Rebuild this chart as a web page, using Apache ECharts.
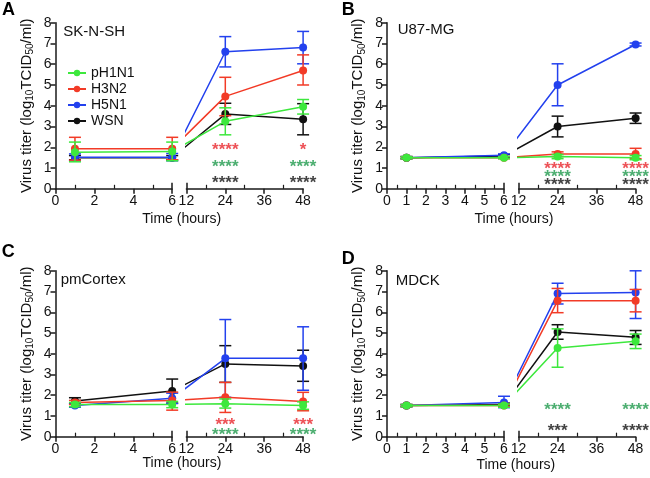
<!DOCTYPE html>
<html>
<head>
<meta charset="utf-8">
<script src="https://cdn.jsdelivr.net/npm/echarts@6/dist/echarts.min.js"></script>
<style>html,body{margin:0;padding:0;background:#fff}#c{width:650px;height:478px}</style>
</head>
<body>
<div id="c"></div>
<script>
// ---------------- DATA ----------------
const times = [1, 6, 24, 48];
const viruses = ['pH1N1', 'H3N2', 'H5N1', 'WSN'];
const panelLetters = ['A', 'B', 'C', 'D'];
const cellLines = ['SK-N-SH', 'U87-MG', 'pmCortex', 'MDCK'];
const yTickMin = 0, yTickMax = 8, yTickStep = 1;
const leftTickStep = [2, 1, 2, 1];
const rightTicks = [12, 24, 36, 48];
const xTitle = 'Time (hours)';

// Panel A: SK-N-SH
const A_pH1N1 = [1.76, 1.80, 3.25, 3.95], A_pH1N1_lo = [1.30, 1.35, 2.60, 3.60], A_pH1N1_hi = [2.25, 2.25, 3.90, 4.30];
const A_H3N2  = [1.93, 1.93, 4.45, 5.70], A_H3N2_lo  = [1.38, 1.40, 3.52, 5.00], A_H3N2_hi  = [2.48, 2.48, 5.37, 6.45];
const A_H5N1  = [1.52, 1.52, 6.60, 6.80], A_H5N1_lo  = [1.35, 1.35, 5.87, 6.02], A_H5N1_hi  = [1.68, 1.70, 7.33, 7.58];
const A_WSN   = [1.50, 1.50, 3.60, 3.35], A_WSN_lo   = [1.40, 1.40, 3.10, 2.60], A_WSN_hi   = [1.60, 1.60, 4.12, 4.10];
// Panel B: U87-MG
const B_pH1N1 = [1.50, 1.50, 1.55, 1.50], B_pH1N1_lo = [1.45, 1.45, 1.45, 1.40], B_pH1N1_hi = [1.55, 1.55, 1.65, 1.60];
const B_H3N2  = [1.50, 1.50, 1.68, 1.68], B_H3N2_lo  = [1.45, 1.45, 1.55, 1.45], B_H3N2_hi  = [1.55, 1.55, 1.78, 1.95];
const B_H5N1  = [1.50, 1.62, 5.00, 6.95], B_H5N1_lo  = [1.45, 1.55, 4.00, 6.88], B_H5N1_hi  = [1.55, 1.68, 6.02, 7.02];
const B_WSN   = [1.50, 1.58, 3.00, 3.40], B_WSN_lo   = [1.45, 1.50, 2.50, 3.15], B_WSN_hi   = [1.55, 1.65, 3.50, 3.65];
// Panel C: pmCortex
const C_pH1N1 = [1.55, 1.55, 1.59, 1.51], C_pH1N1_lo = [1.45, 1.40, 1.38, 1.32], C_pH1N1_hi = [1.65, 1.70, 1.82, 1.68];
const C_H3N2  = [1.65, 1.75, 1.90, 1.70], C_H3N2_lo  = [1.55, 1.28, 1.17, 1.25], C_H3N2_hi  = [1.75, 2.15, 2.62, 2.14];
const C_H5N1  = [1.50, 1.85, 3.78, 3.78], C_H5N1_lo  = [1.42, 1.60, 1.90, 2.24], C_H5N1_hi  = [1.58, 2.10, 5.65, 5.30];
const C_WSN   = [1.72, 2.20, 3.51, 3.41], C_WSN_lo   = [1.60, 1.62, 2.62, 2.67], C_WSN_hi   = [1.88, 2.78, 4.39, 4.17];
// Panel D: MDCK
const D_pH1N1 = [1.50, 1.50, 4.28, 4.60], D_pH1N1_lo = [1.45, 1.42, 3.35, 4.25], D_pH1N1_hi = [1.55, 1.58, 5.20, 4.95];
const D_H3N2  = [1.50, 1.50, 6.55, 6.55], D_H3N2_lo  = [1.45, 1.45, 5.98, 6.02], D_H3N2_hi  = [1.55, 1.55, 7.15, 7.10];
const D_H5N1  = [1.50, 1.65, 6.90, 6.95], D_H5N1_lo  = [1.45, 1.40, 6.40, 5.70], D_H5N1_hi  = [1.55, 1.95, 7.40, 8.00];
const D_WSN   = [1.50, 1.55, 5.05, 4.80], D_WSN_lo   = [1.45, 1.48, 4.70, 4.45], D_WSN_hi   = [1.55, 1.62, 5.40, 5.12];

// Significance annotations: [time, level, text, comparison group]
const A_stars = [[24, 2.05, '****', 'H3N2'], [24, 1.25, '****', 'pH1N1'], [24, 0.45, '****', 'WSN'],
                 [48, 2.05, '*', 'H3N2'], [48, 1.25, '****', 'pH1N1'], [48, 0.45, '****', 'WSN']];
const B_stars = [[24, 1.13, '****', 'H3N2'], [24, 0.77, '****', 'pH1N1'], [24, 0.35, '****', 'WSN'],
                 [48, 1.13, '****', 'H3N2'], [48, 0.77, '****', 'pH1N1'], [48, 0.35, '****', 'WSN']];
const C_stars = [[24, 0.76, '***', 'H3N2'], [24, 0.27, '****', 'pH1N1'],
                 [48, 0.76, '***', 'H3N2'], [48, 0.27, '****', 'pH1N1']];
const D_stars = [[24, 1.45, '****', 'pH1N1'], [24, 0.45, '***', 'WSN'],
                 [48, 1.45, '****', 'pH1N1'], [48, 0.45, '****', 'WSN']];

// ---------------- STYLE / LAYOUT ----------------
const FONT = '"Liberation Sans", Arial, sans-serif';
const lineColor = { pH1N1: '#3de83d', H3N2: '#f23b27', H5N1: '#2341ee', WSN: '#111111' };
const starColor = { pH1N1: '#1f9a4c', H3N2: '#e8262c', H5N1: '#2341ee', WSN: '#111111' };
const drawOrder = ['WSN', 'H5N1', 'H3N2', 'pH1N1'];
const COLS = [{ x0: 55.5, w: 116.7, gap: 14.2 }, { x0: 387, w: 117, gap: 14.6 }];
const ROWS = [{ top: 22.7, h: 166.1 }, { top: 270.8, h: 165.9 }];
const AX = '#1a1a1a';

const panelData = {
  A: { pH1N1: [A_pH1N1, A_pH1N1_lo, A_pH1N1_hi], H3N2: [A_H3N2, A_H3N2_lo, A_H3N2_hi], H5N1: [A_H5N1, A_H5N1_lo, A_H5N1_hi], WSN: [A_WSN, A_WSN_lo, A_WSN_hi], stars: A_stars },
  B: { pH1N1: [B_pH1N1, B_pH1N1_lo, B_pH1N1_hi], H3N2: [B_H3N2, B_H3N2_lo, B_H3N2_hi], H5N1: [B_H5N1, B_H5N1_lo, B_H5N1_hi], WSN: [B_WSN, B_WSN_lo, B_WSN_hi], stars: B_stars },
  C: { pH1N1: [C_pH1N1, C_pH1N1_lo, C_pH1N1_hi], H3N2: [C_H3N2, C_H3N2_lo, C_H3N2_hi], H5N1: [C_H5N1, C_H5N1_lo, C_H5N1_hi], WSN: [C_WSN, C_WSN_lo, C_WSN_hi], stars: C_stars },
  D: { pH1N1: [D_pH1N1, D_pH1N1_lo, D_pH1N1_hi], H3N2: [D_H3N2, D_H3N2_lo, D_H3N2_hi], H5N1: [D_H5N1, D_H5N1_lo, D_H5N1_hi], WSN: [D_WSN, D_WSN_lo, D_WSN_hi], stars: D_stars }
};

const grids = [], xAxes = [], yAxes = [], series = [], graphics = [];
const leftSeries = [], errSeries = [], starSeries = [];

function errRender(color) {
  return function (params, api) {
    const lo = api.coord([api.value(0), api.value(1)]);
    const hi = api.coord([api.value(0), api.value(2)]);
    const hw = 6;
    const st = { stroke: color, lineWidth: 1.5 };
    return {
      type: 'group', children: [
        { type: 'line', shape: { x1: lo[0], y1: lo[1], x2: hi[0], y2: hi[1] }, style: st },
        { type: 'line', shape: { x1: lo[0] - hw, y1: lo[1], x2: lo[0] + hw, y2: lo[1] }, style: st },
        { type: 'line', shape: { x1: hi[0] - hw, y1: hi[1], x2: hi[0] + hw, y2: hi[1] }, style: st }
      ]
    };
  };
}

const yName = '{n|Virus titer (log}{s|10}{n|TCID}{s|50}{n|/ml)}';

panelLetters.forEach((P, p) => {
  const col = COLS[p % 2], row = ROWS[Math.floor(p / 2)];
  const gL = 2 * p, gR = 2 * p + 1;
  const rightLeft = col.x0 + col.w + col.gap;
  grids.push({ left: col.x0, top: row.top, width: col.w, height: row.h, containLabel: false });
  grids.push({ left: rightLeft, top: row.top, width: col.w, height: row.h, containLabel: false });

  const mainX = (gi, min, max, interval) => ({
    type: 'value', gridIndex: gi, position: 'bottom', min, max, interval,
    axisLine: { show: true, onZero: false, lineStyle: { color: AX, width: 1.5 } },
    axisTick: { show: true, length: 5, lineStyle: { color: AX, width: 1.5 } },
    axisLabel: { fontSize: 14, color: '#111', fontFamily: FONT, margin: 5, showMinLabel: true, showMaxLabel: true },
    splitLine: { show: false }
  });
  const minorX = (gi, min, max, interval) => ({
    type: 'value', gridIndex: gi, position: 'bottom', min, max, interval,
    axisLine: { show: false, onZero: false }, axisLabel: { show: false },
    axisTick: { show: false, inside: true },
    minorTick: { show: true, splitNumber: 2, length: 4, lineStyle: { color: AX, width: 1.2 } },
    splitLine: { show: false }, minorSplitLine: { show: false }
  });
  const breakX = (gi, min, max, val) => ({
    type: 'value', gridIndex: gi, position: 'bottom', min, max,
    axisLine: { show: false, onZero: false }, axisLabel: { show: false },
    axisTick: { show: true, inside: true, length: 6, customValues: [val], lineStyle: { color: AX, width: 1.5 } },
    splitLine: { show: false }
  });
  xAxes.push(mainX(gL, 0, 6, leftTickStep[p]));
  xAxes.push(minorX(gL, 0, 6, leftTickStep[p]));
  xAxes.push(breakX(gL, 0, 6, 6));
  xAxes.push(mainX(gR, rightTicks[0], rightTicks[rightTicks.length - 1], rightTicks[1] - rightTicks[0]));
  xAxes.push(minorX(gR, rightTicks[0], rightTicks[rightTicks.length - 1], rightTicks[1] - rightTicks[0]));
  xAxes.push(breakX(gR, rightTicks[0], rightTicks[rightTicks.length - 1], rightTicks[0]));

  yAxes.push({
    type: 'value', gridIndex: gL, min: yTickMin, max: yTickMax, interval: yTickStep,
    axisLine: { show: true, lineStyle: { color: AX, width: 1.5 } },
    axisTick: { show: true, length: 5, lineStyle: { color: AX, width: 1.5 } },
    axisLabel: { fontSize: 14, color: '#111', fontFamily: FONT, margin: 4 },
    splitLine: { show: false },
    name: yName, nameLocation: 'middle', nameRotate: 90, nameGap: 19,
    nameTextStyle: {
      fontFamily: FONT, color: '#111',
      rich: {
        n: { fontSize: 15, fontFamily: FONT, color: '#111', lineHeight: 20, verticalAlign: 'middle' },
        s: { fontSize: 10, fontFamily: FONT, color: '#111', verticalAlign: 'top', padding: [9, 0, 0, 0] }
      }
    }
  });
  yAxes.push({ type: 'value', gridIndex: gR, min: yTickMin, max: yTickMax, interval: yTickStep, show: false });

  // position of the 6 h point in the right panel's scale (continuation across the break)
  const hPerPx = (rightTicks[rightTicks.length - 1] - rightTicks[0]) / col.w;
  const xVirtual = rightTicks[0] - col.gap * hPerPx;

  const D = panelData[P];
  drawOrder.forEach((v, k) => {
    const [m, lo, hi] = D[v];
    const c = lineColor[v];
    const z = 3 + k;
    leftSeries.push({
      type: 'line', name: v, xAxisIndex: gL * 3, yAxisIndex: gL, z,
      data: [[times[0], m[0]], [times[1], m[1]]],
      symbol: 'circle', symbolSize: 8, showAllSymbol: true,
      lineStyle: { color: c, width: 1.5 }, itemStyle: { color: c }, emphasis: { disabled: true }, animation: false
    });
    leftSeries.push({
      type: 'line', name: v, xAxisIndex: gR * 3, yAxisIndex: gR, z, clip: true,
      data: [[xVirtual, m[1]], [times[2], m[2]], [times[3], m[3]]],
      symbol: 'circle', symbolSize: 8, showAllSymbol: true,
      lineStyle: { color: c, width: 1.5 }, itemStyle: { color: c }, emphasis: { disabled: true }, animation: false
    });
    errSeries.push({
      type: 'custom', name: v, xAxisIndex: gL * 3, yAxisIndex: gL, z, silent: true, animation: false,
      data: [[times[0], lo[0], hi[0]], [times[1], lo[1], hi[1]]],
      encode: { x: 0, y: [1, 2] }, renderItem: errRender(c)
    });
    errSeries.push({
      type: 'custom', name: v, xAxisIndex: gR * 3, yAxisIndex: gR, z, silent: true, animation: false,
      data: [[times[2], lo[2], hi[2]], [times[3], lo[3], hi[3]]],
      encode: { x: 0, y: [1, 2] }, renderItem: errRender(c)
    });
  });

  D.stars.forEach(s => {
    starSeries.push({
      type: 'scatter', xAxisIndex: gR * 3, yAxisIndex: gR, z: 10, silent: true, animation: false, clip: false,
      data: [[s[0], s[1], s[2]]], symbolSize: 2, itemStyle: { color: 'rgba(0,0,0,0)' },
      label: {
        show: true, position: 'inside', formatter: q => q.data[2], color: starColor[s[3]],
        fontSize: 17, fontWeight: 'bold', fontFamily: FONT, offset: [0, 4]
      }
    });
  });
});

series.push(...leftSeries, ...errSeries, ...starSeries);

const letterPos = [[2, 10], [341.7, 10.5], [1.7, 251.8], [341.7, 259.3]];
const cellPos = [[63.3, 31.7], [397.7, 30], [60.7, 279.7], [395.7, 281.3]];
const titlePos = [[181.7, 219], [514, 219], [182, 463], [515.8, 464.7]];
panelLetters.forEach((P, p) => {
  graphics.push({ type: 'text', x: letterPos[p][0], y: letterPos[p][1], style: { text: P, font: 'bold 18px ' + FONT, fill: '#000', textVerticalAlign: 'middle' } });
  graphics.push({ type: 'text', x: cellPos[p][0], y: cellPos[p][1], style: { text: cellLines[p], font: '15px ' + FONT, fill: '#111', textVerticalAlign: 'middle' } });
  graphics.push({ type: 'text', x: titlePos[p][0], y: titlePos[p][1], style: { text: xTitle, font: '14px ' + FONT, fill: '#111', textAlign: 'center', textVerticalAlign: 'middle' } });
});

const chart = echarts.init(document.getElementById('c'), null, { renderer: 'canvas' });
chart.setOption({
  animation: false,
  backgroundColor: '#fff',
  textStyle: { fontFamily: FONT },
  legend: {
    data: viruses, orient: 'vertical', left: 62, top: 61,
    itemWidth: 18, itemHeight: 8, itemGap: 2,
    textStyle: { fontSize: 14, color: '#111', fontFamily: FONT }, selectedMode: false
  },
  grid: grids, xAxis: xAxes, yAxis: yAxes, series: series, graphic: graphics
});
</script>
</body>
</html>
